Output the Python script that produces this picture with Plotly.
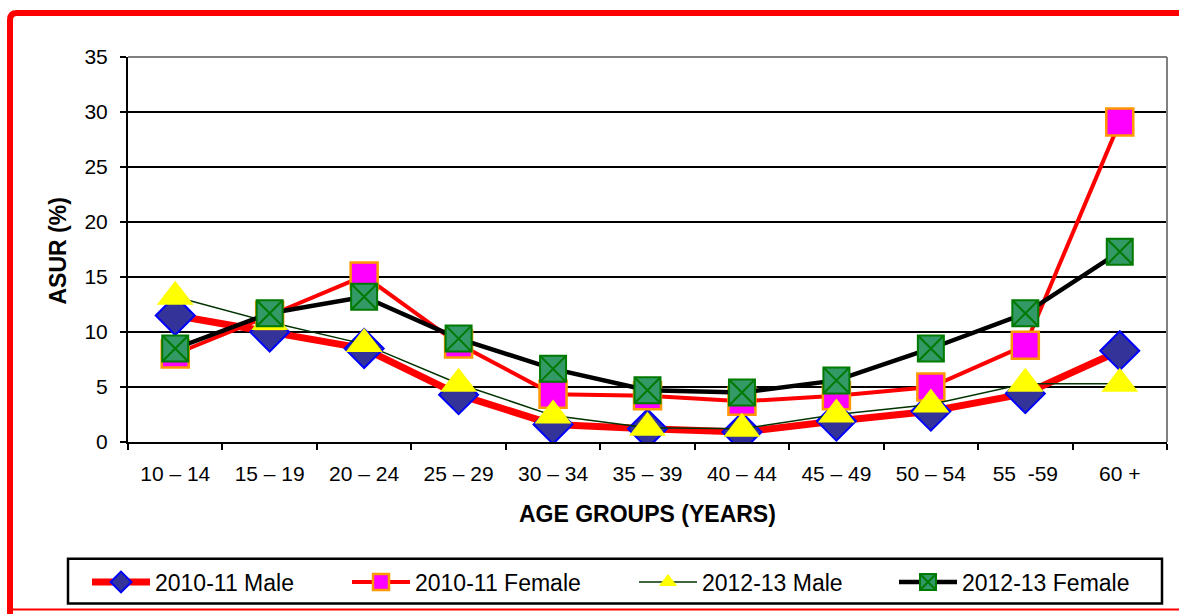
import plotly.graph_objects as go

# ---- data ----
age_groups = ["10 – 14", "15 – 19", "20 – 24", "25 – 29", "30 – 34", "35 – 39",
              "40 – 44", "45 – 49", "50 – 54", "55  -59", "60 +"]
male_2010 = [11.5, 10.0, 8.5, 4.3, 1.6, 1.2, 0.9, 1.9, 2.8, 4.4, 8.3]
female_2010 = [8.0, 11.5, 15.1, 8.9, 4.35, 4.2, 3.7, 4.2, 5.0, 8.8, 29.1]
male_2012 = [13.2, 10.9, 8.9, 5.3, 2.4, 1.3, 1.2, 2.5, 3.4, 5.3, 5.3]
female_2012 = [8.5, 11.7, 13.2, 9.4, 6.65, 4.7, 4.5, 5.6, 8.5, 11.7, 17.3]
y_ticks = [0, 5, 10, 15, 20, 25, 30, 35]

W, H = 1179, 614
L, R, T, B = 128, 12, 57, 171
PW, PH = W - L - R, H - T - B
FONT = "Liberation Sans, Arial, sans-serif"


def px(xp):
    return (xp - L) / PW


def py(yp):
    return (H - B - yp) / PH


fig = go.Figure()

fig.add_trace(go.Scatter(
    x=age_groups, y=male_2010, name="2010-11 Male", mode="lines+markers",
    line=dict(color="#FF0000", width=7),
    marker=dict(symbol="diamond", size=30, color="#333399",
                line=dict(color="#0000FF", width=2)),
    legend="legend"))
fig.add_trace(go.Scatter(
    x=age_groups, y=female_2010, name="2010-11 Female", mode="lines+markers",
    line=dict(color="#FF0000", width=4),
    marker=dict(symbol="square", size=27, color="#FF00FF",
                line=dict(color="#FF9900", width=2.5)),
    legend="legend2"))
fig.add_trace(go.Scatter(
    x=age_groups, y=male_2012, name="2012-13 Male", mode="lines+markers",
    line=dict(color="#003300", width=1.5),
    marker=dict(symbol="triangle-up", size=32, color="#FFFF00",
                line=dict(color="#FFFF00", width=0)),
    legend="legend3"))
fig.add_trace(go.Scatter(
    x=age_groups, y=female_2012, name="2012-13 Female", mode="lines+markers",
    line=dict(color="#000000", width=4.5),
    marker=dict(symbol="square-x", size=26, color="#339966",
                line=dict(color="#007A00", width=2)),
    legend="legend4"))

shapes = [
    # plot-area top and right borders (gray)
    dict(type="line", xref="paper", yref="paper", x0=0, x1=1, y0=1, y1=1,
         line=dict(color="#808080", width=2), layer="above"),
    dict(type="line", xref="paper", yref="paper", x0=1, x1=1, y0=0, y1=1,
         line=dict(color="#808080", width=2), layer="above"),
    # legend box
    dict(type="rect", xref="paper", yref="paper",
         x0=px(68), x1=px(1162), y0=py(605), y1=py(560),
         line=dict(color="#000000", width=2.5), fillcolor="rgba(0,0,0,0)"),
    # red outer frame
    dict(type="path", xref="paper", yref="paper",
         path=(f"M {px(10)},{py(620)} L {px(10)},{py(20)} "
               f"Q {px(10)},{py(13)} {px(17)},{py(13)} L {px(1190)},{py(13)}"),
         line=dict(color="#FF0000", width=6)),
    dict(type="line", xref="paper", yref="paper",
         x0=px(10), x1=px(1190), y0=py(611), y1=py(611),
         line=dict(color="#FF0000", width=2)),
]

annotations = [
    dict(text="<b>AGE GROUPS (YEARS)</b>", xref="paper", yref="paper",
         x=px(647), y=py(515), xanchor="center", yanchor="middle",
         showarrow=False, font=dict(family=FONT, size=23, color="#000000")),
    dict(text="<b>ASUR (%)</b>", xref="paper", yref="paper",
         x=px(58), y=py(252), xanchor="center", yanchor="middle",
         textangle=-90, showarrow=False,
         font=dict(family=FONT, size=23, color="#000000")),
]

leg_common = dict(orientation="h", yanchor="middle", xanchor="left",
                  bgcolor="rgba(0,0,0,0)", borderwidth=0, itemwidth=58,
                  font=dict(family=FONT, size=23, color="#000000"),
                  itemclick=False, itemdoubleclick=False)
leg_starts = [87, 347, 634, 894]
legends = {}
for i, xs in enumerate(leg_starts):
    key = "legend" if i == 0 else f"legend{i + 1}"
    legends[key] = dict(x=px(xs), y=py(582), **leg_common)

fig.update_layout(
    width=W, height=H,
    margin=dict(l=L, r=R, t=T, b=B),
    paper_bgcolor="#FFFFFF", plot_bgcolor="#FFFFFF",
    font=dict(family=FONT, size=20, color="#000000"),
    showlegend=True,
    shapes=shapes, annotations=annotations,
    xaxis=dict(type="category", categoryorder="array", categoryarray=age_groups,
               range=[-0.5, len(age_groups) - 0.5], autorange=False,
               showgrid=False, showline=True, linecolor="#000000", linewidth=2,
               ticks="outside", tickson="boundaries", ticklen=6,
               tickwidth=2, tickcolor="#000000", ticklabelstandoff=12,
               tickfont=dict(family=FONT, size=21, color="#000000"),
               zeroline=False, fixedrange=True),
    yaxis=dict(range=[0, 35], autorange=False, tickvals=y_ticks, showgrid=True,
               gridcolor="#000000", gridwidth=2,
               showline=True, linecolor="#000000", linewidth=2,
               ticks="outside", ticklen=6, tickwidth=2, tickcolor="#000000",
               ticklabelstandoff=8,
               tickfont=dict(family=FONT, size=21, color="#000000"),
               zeroline=False, fixedrange=True),
    **legends,
)

fig.write_html("out.html",
               config={"displayModeBar": False},
               post_script="document.body.style.margin='0';"
                           "document.body.style.overflow='hidden';")
